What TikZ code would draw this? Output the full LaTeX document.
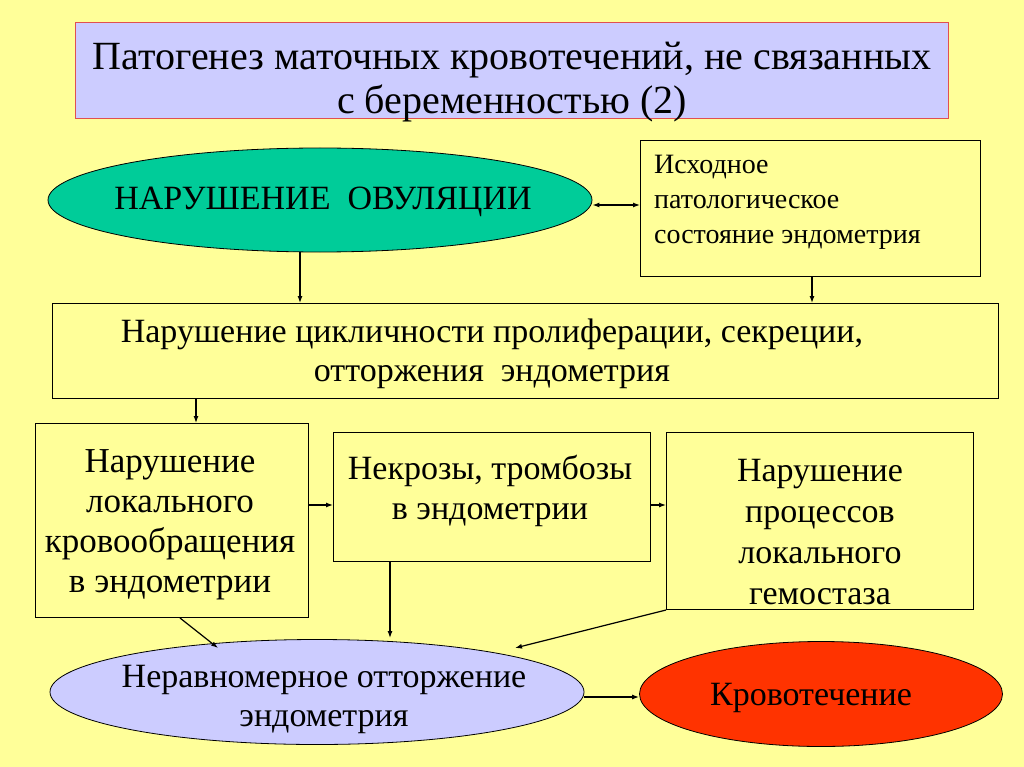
\documentclass[tikz,border=0pt]{standalone}
\usepackage{fontspec}
\setmainfont{Liberation Serif}
\usetikzlibrary{shapes.geometric, positioning, arrows.meta}

\definecolor{slidebg}{HTML}{FFFF99}
\definecolor{lilac}{HTML}{CCCCFF}
\definecolor{seagreen}{HTML}{00CC99}
\definecolor{bloodred}{HTML}{FF3300}
\definecolor{titleedge}{HTML}{E05050}

\tikzset{
	box/.style={draw, line width=1pt, fill=slidebg, anchor=north west, inner sep=0pt},
	oval/.style={draw, ellipse, line width=0.8pt, inner sep=0pt},
	txt/.style={align=center, inner sep=0pt},
	link/.style={-{Latex[length=7pt, width=5pt]}, line width=1.2pt},
}

\begin{document}
\begin{tikzpicture}[x=1pt, y=-1pt]
			\fill[slidebg] (0,0) rectangle (1024,767);
			\useasboundingbox (0,0) rectangle (1024,767);
			
			% title
			\node[box, draw=titleedge, fill=lilac, minimum width=873, minimum height=96] (title) at (75,22) {};
			\node[txt, font=\fontsize{40}{44}\selectfont] at (512,82) {Патогенез маточных кровотечений, не связанных\\с беременностью (2)};
			
			% upper row
			\node[oval, fill=seagreen, minimum width=544, minimum height=104] (ovul) at (320,200) {};
			\node[txt, font=\fontsize{34}{35}\selectfont] at (323,202) {НАРУШЕНИЕ\ \ ОВУЛЯЦИИ};
			\node[box, minimum width=340, minimum height=136] (endo) at (640,140) {};
			\node[txt, align=left, anchor=north west, font=\fontsize{28}{35}\selectfont] at (654,155) {Исходное\\патологическое\\состояние эндометрия};
			
			\node[box, minimum width=946, minimum height=95] (cycle) at (52,303) {};
			\node[txt, font=\fontsize{34}{39}\selectfont] at (492,354) {Нарушение цикличности пролиферации, секреции,\\отторжения\ \ эндометрия};
			
			% middle row
			\node[box, minimum width=273, minimum height=194] (flow) at (35,423) {};
			\node[txt, font=\fontsize{35}{40}\selectfont] at (170,525) {Нарушение\\локального\\кровообращения\\в эндометрии};
			\node[box, minimum width=317, minimum height=129] (necr) at (333,432) {};
			\node[txt, font=\fontsize{34}{40}\selectfont] at (490,491) {Некрозы, тромбозы\\в эндометрии};
			\node[box, minimum width=307, minimum height=177] (hemo) at (666,432) {};
			\node[txt, font=\fontsize{34}{41}\selectfont] at (820,532) {Нарушение\\процессов\\локального\\гемостаза};
			
			% bottom row
			\node[oval, fill=lilac, minimum width=534, minimum height=105] (shed) at (317,692) {};
			\node[txt, font=\fontsize{34}{39}\selectfont] at (324,699) {Неравномерное отторжение\\эндометрия};
			\node[oval, fill=bloodred, minimum width=363, minimum height=105] (bleed) at (821,694) {};
			\node[txt, font=\fontsize{34}{35}\selectfont] at (811,698) {Кровотечение};
			
			% connectors
			\draw[link, {Latex[length=7pt, width=5pt]}-{Latex[length=7pt, width=5pt]}] (ovul.east |- 0,205) -- (endo.west |- 0,205);
			\draw[link] (ovul.south -| 300,0) -- (cycle.north -| 300,0);
			\draw[link] (endo.south -| 812,0) -- (cycle.north -| 812,0);
			\draw[link] (cycle.south -| 196,0) -- (flow.north -| 196,0);
			\draw[link] (flow.east |- 0,505) -- (necr.west |- 0,505);
			\draw[link] (necr.east |- 0,505) -- (hemo.west |- 0,505);
			\draw[link] (flow.south -| 180,0) -- (218,648);
			\draw[link] (necr.south -| 390,0) -- (390,638);
			\draw[link] (hemo.south west) -- (515,648);
			\draw[link] (shed.east |- 0,697) -- (bleed.west |- 0,697);
\end{tikzpicture}
\end{document}
